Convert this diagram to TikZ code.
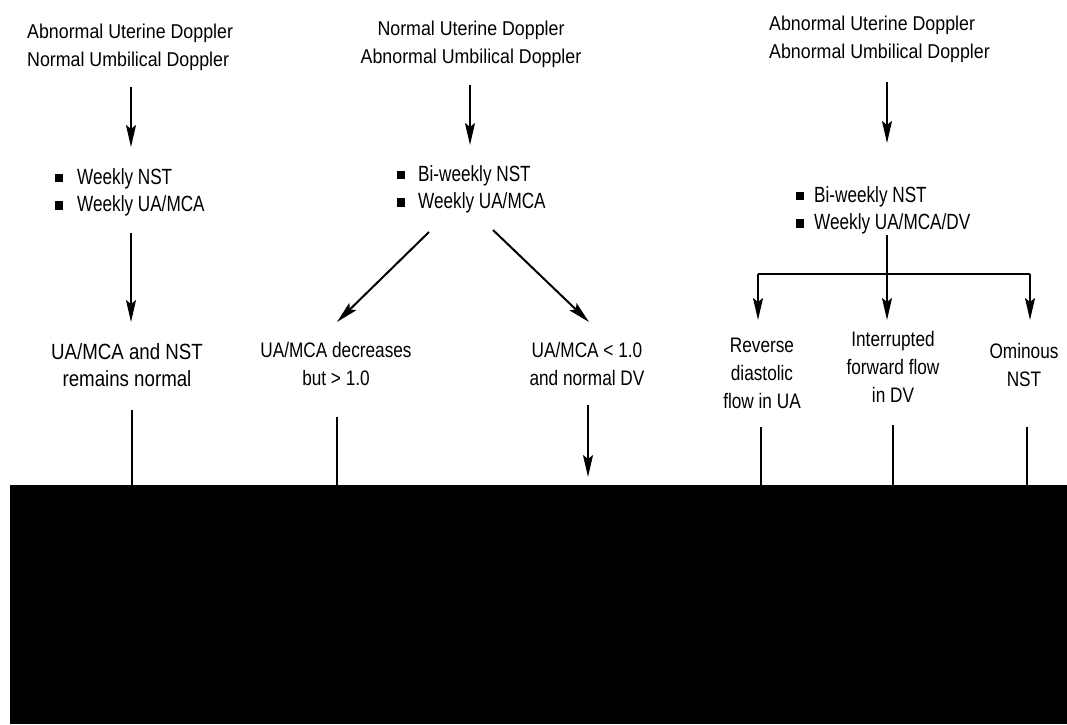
\documentclass[tikz,border=0pt]{standalone}
\usepackage{fontspec}
\setmainfont{Liberation Sans}
\newfontfamily\titlefam{Liberation Sans}[FakeStretch=0.89]
\newfontfamily\bodyfam{Liberation Sans}[FakeStretch=0.82]
\newfontfamily\bodywide{Liberation Sans}[FakeStretch=0.85]
\newfontfamily\bulfam{Liberation Sans}[FakeStretch=0.78]
\usetikzlibrary{arrows.meta}
\newcommand{\lstack}[1]{\begin{tabular}[t]{@{}l@{}}#1\end{tabular}}
\newcommand{\cstack}[1]{\begin{tabular}[t]{@{}c@{}}#1\end{tabular}}
\tikzset{
  ttl/.style={inner sep=0pt, font=\titlefam\fontsize{20}{28}\selectfont},
  bultxt/.style={inner sep=0pt, font=\bulfam\fontsize{22}{27.5}\selectfont},
  outc/.style={inner sep=0pt, font=\bodyfam\fontsize{21}{28}\selectfont},
  sq/.style={fill=black, inner sep=0pt, minimum size=8.5pt},
  arr/.style={-{Stealth[length=22pt,width=10pt,inset=4pt]}, line width=2pt},
  ln/.style={line width=2pt}
}
\begin{document}
\begin{tikzpicture}[x=1pt,y=-1pt]
\useasboundingbox (0,0) rectangle (1067,724);
% titles
\node[ttl, anchor=base west] (t1) at (27,38) {\lstack{Abnormal Uterine Doppler\\Normal Umbilical Doppler}};
\node[ttl, anchor=base] (t2) at (471,35) {\cstack{Normal Uterine Doppler\\Abnormal Umbilical Doppler}};
\node[ttl, anchor=base west] (t3) at (769,30) {\lstack{Abnormal Uterine Doppler\\Abnormal Umbilical Doppler}};
% bullets
\node[bultxt, anchor=base west] (b1) at (77,184) {\lstack{Weekly NST\\Weekly UA/MCA}};
\node[sq] (b1a) at (59,178) {};
\node[sq] (b1b) at (59,205.5) {};
\node[bultxt, anchor=base west] (b2) at (418,181) {\lstack{Bi-weekly NST\\Weekly UA/MCA}};
\node[sq] (b2a) at (401,175) {};
\node[sq] (b2b) at (401,202.5) {};
\node[bultxt, anchor=base west] (b3) at (814,202) {\lstack{Bi-weekly NST\\Weekly UA/MCA/DV}};
\node[sq] (b3a) at (800,196) {};
\node[sq] (b3b) at (800,223.5) {};
% outcomes
\node[outc, anchor=base, font=\bodywide\fontsize{22}{27.5}\selectfont] (o1) at (127,359) {\cstack{UA/MCA and NST\\remains normal}};
\node[outc, anchor=base] (o2) at (336,357) {\cstack{UA/MCA decreases\\but > 1.0}};
\node[outc, anchor=base] (o3) at (587,357) {\cstack{UA/MCA < 1.0\\and normal DV}};
\node[outc, anchor=base] (o4) at (762,352) {\cstack{Reverse\\diastolic\\flow in UA}};
\node[outc, anchor=base] (o5) at (893,346) {\cstack{Interrupted\\forward flow\\in DV}};
\node[outc, anchor=base] (o6) at (1024,358) {\cstack{Ominous\\NST}};
% connector end points
\coordinate (a1s) at (131,87);  \coordinate (a1e) at (131,147);
\coordinate (a2s) at (131,233); \coordinate (a2e) at (131,322);
\coordinate (l1s) at (132,410); \coordinate (l1e) at (132,485);
\coordinate (c2s) at (470,85);  \coordinate (c2e) at (470,145);
\coordinate (d1s) at (429,232); \coordinate (d1e) at (337,322);
\coordinate (d2s) at (493,230); \coordinate (d2e) at (589,322);
\coordinate (l2s) at (337,417); \coordinate (l2e) at (337,485);
\coordinate (r2s) at (588,405); \coordinate (r2e) at (588,477);
\coordinate (c3s) at (887,82);  \coordinate (c3e) at (887,143);
\coordinate (v3s) at (887,235); \coordinate (v3e) at (887,320);
\coordinate (hL) at (758,274);  \coordinate (hR) at (1030,274);
\coordinate (hLe) at (758,320); \coordinate (hRe) at (1030,320);
\coordinate (m1s) at (761,427); \coordinate (m1e) at (761,485);
\coordinate (m2s) at (893,425); \coordinate (m2e) at (893,485);
\coordinate (m3s) at (1027,427); \coordinate (m3e) at (1027,485);
% connectors
\draw[arr] (a1s) -- (a1e);
\draw[arr] (a2s) -- (a2e);
\draw[ln] (l1s) -- (l1e);
\draw[arr] (c2s) -- (c2e);
\draw[arr] (d1s) -- (d1e);
\draw[arr] (d2s) -- (d2e);
\draw[ln] (l2s) -- (l2e);
\draw[arr] (r2s) -- (r2e);
\draw[arr] (c3s) -- (c3e);
\draw[arr] (v3s) -- (v3e);
\draw[ln] (hL) -- (hR);
\draw[arr] (hL) -- (hLe);
\draw[arr] (hR) -- (hRe);
\draw[ln] (m1s) -- (m1e);
\draw[ln] (m2s) -- (m2e);
\draw[ln] (m3s) -- (m3e);
% black band
\fill[black] (10,485) rectangle (1067,724);
\end{tikzpicture}
\end{document}
